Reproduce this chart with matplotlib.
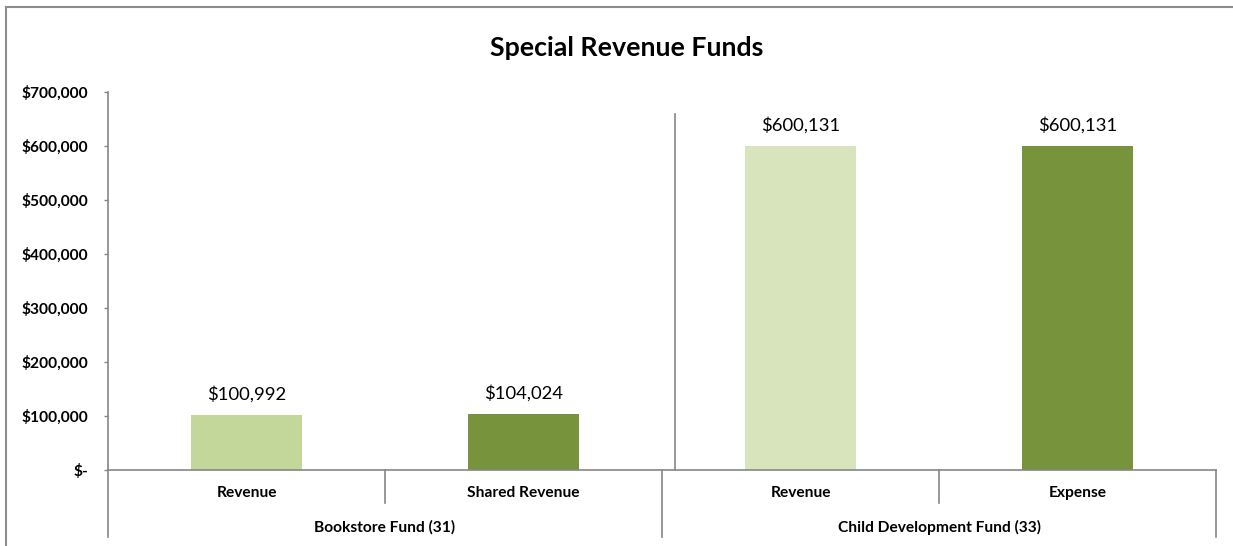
import matplotlib.pyplot as plt
from matplotlib.transforms import blended_transform_factory
from matplotlib.lines import Line2D

plt.rcParams['font.family'] = ['Lato', 'DejaVu Sans']

groups = ['Bookstore Fund (31)', 'Child Development Fund (33)']
categories = ['Revenue', 'Shared Revenue', 'Revenue', 'Expense']
values = [100992, 104024, 600131, 600131]
colors = ['#C4D79B', '#77933C', '#D8E4BC', '#77933C']
yticks = [0, 100000, 200000, 300000, 400000, 500000, 600000, 700000]

W, H = 1233, 546
axis_grey = '#868686'
lab_size = 11.2

fig = plt.figure(figsize=(W / 100, H / 100), dpi=100)
ax = fig.add_axes([108 / W, 1 - 470 / H, (1216 - 108) / W, (470 - 92) / H])

x = list(range(len(values)))
ax.bar(x, values, width=0.4, color=colors)
ax.set_xlim(-0.5, len(values) - 0.5)
ax.set_ylim(0, 700000)

ax.set_yticks(yticks)
ax.set_yticklabels(['$-' if v == 0 else f'${v:,}' for v in yticks],
                   fontweight='bold', fontsize=lab_size)
ax.tick_params(axis='y', length=3, width=1, color=axis_grey, pad=11)
ax.set_xticks([])

for s in ['top', 'right']:
    ax.spines[s].set_visible(False)
for s in ['left', 'bottom']:
    ax.spines[s].set_color(axis_grey)
    ax.spines[s].set_linewidth(1.2)

# value labels above bars
for i, v in zip(x, values):
    ax.annotate(f'${v:,}', (i, v), xytext=(0, 15), textcoords='offset points',
                ha='center', va='center', fontsize=13.3)

trans = blended_transform_factory(ax.transData, fig.transFigure)
y_axis = 1 - 470 / H

# separator between the two funds inside the plot
ax.add_line(Line2D([1.546, 1.546], [y_axis, 1 - 114 / H], transform=trans,
                   color=axis_grey, lw=1.2, clip_on=False))

# multi-level category axis
n_per = len(categories) // len(groups)
for b in range(len(values) + 1):
    bottom = 537 if b % n_per == 0 else 503
    ax.add_line(Line2D([b - 0.5, b - 0.5], [y_axis, 1 - bottom / H], transform=trans,
                       color=axis_grey, lw=1.2, clip_on=False))
for i, c in enumerate(categories):
    ax.text(i, 1 - 493 / H, c, transform=trans, ha='center', va='center',
            fontsize=lab_size, fontweight='bold')
for g, name in enumerate(groups):
    ax.text(g * n_per + (n_per - 1) / 2, 1 - 527 / H, name, transform=trans,
            ha='center', va='center', fontsize=lab_size, fontweight='bold')

fig.text(627 / W, 1 - 48 / H, 'Special Revenue Funds', ha='center', va='center',
         fontsize=19.3, fontweight='bold')

# chart border (right and bottom edges are cropped in the reference)
fig.add_artist(Line2D([6 / W, 1], [1 - 7 / H, 1 - 7 / H], transform=fig.transFigure,
                      color='#8c8c8c', lw=1.5))
fig.add_artist(Line2D([6 / W, 6 / W], [1 - 7 / H, 0], transform=fig.transFigure,
                      color='#8c8c8c', lw=1.5))

fig.savefig('out.png', dpi=100)
